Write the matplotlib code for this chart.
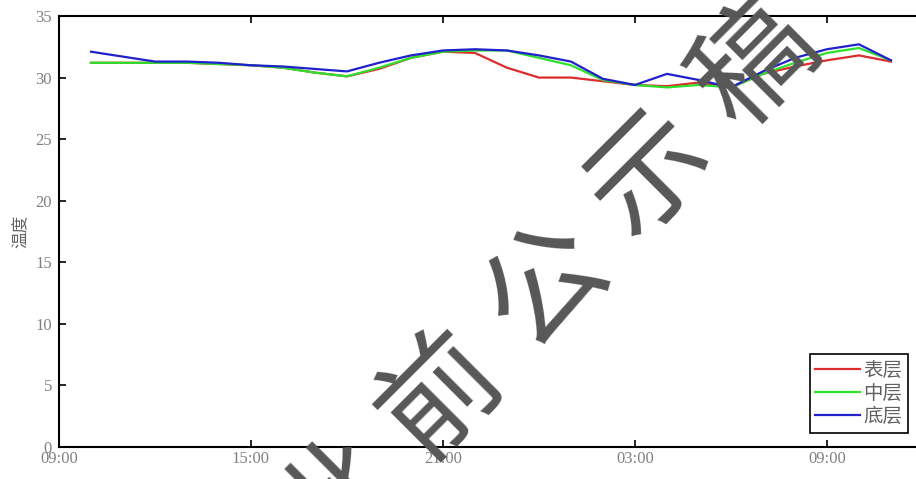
#!/usr/bin/env python3
"""Hourly water temperature at three depths (surface / middle / bottom)."""

import pandas as pd
import matplotlib.pyplot as plt
import matplotlib.dates as mdates

plt.rcParams["font.family"] = ["Noto Sans CJK SC", "DejaVu Sans"]

# hourly readings, 10:00 day 1 to 11:00 day 2
times = pd.date_range("2020-07-01 10:00", periods=26, freq="h")

surface = [31.2, 31.2, 31.2, 31.2, 31.1, 31.0, 30.8, 30.4, 30.1, 30.7,
           31.6, 32.1, 32.0, 30.8, 30.0, 30.0, 29.7, 29.4, 29.3, 29.6,
           29.2, 30.3, 30.9, 31.4, 31.8, 31.3]
middle = [31.2, 31.2, 31.2, 31.2, 31.1, 31.0, 30.8, 30.4, 30.1, 30.8,
          31.6, 32.1, 32.2, 32.2, 31.6, 31.0, 29.8, 29.4, 29.2, 29.4,
          29.2, 30.3, 31.2, 32.0, 32.4, 31.4]
bottom = [32.1, 31.7, 31.3, 31.3, 31.2, 31.0, 30.9, 30.7, 30.5, 31.2,
          31.8, 32.2, 32.3, 32.2, 31.8, 31.3, 29.9, 29.4, 30.3, 29.8,
          29.2, 30.5, 31.6, 32.3, 32.7, 31.4]

labels = ["表层", "中层", "底层"]
colors = ["#dc2c2c", "#2ce02c", "#2020cc"]

watermark = "批前公示稿"

fig = plt.figure(figsize=(9.16, 4.79), dpi=100)
ax = fig.add_axes([0.0644, 0.0668, 0.9432, 0.8998])

for vals, lab, col in zip([surface, middle, bottom], labels, colors):
    ax.plot(times, vals, color=col, linewidth=1.6, label=lab)

ax.set_xlim(pd.Timestamp("2020-07-01 09:00"), pd.Timestamp("2020-07-02 12:00"))
ax.set_ylim(0, 35)
ax.set_yticks(range(0, 36, 5))
ax.xaxis.set_major_locator(mdates.HourLocator(byhour=[3, 9, 15, 21]))
ax.xaxis.set_major_formatter(mdates.DateFormatter("%H:%M"))

ax.tick_params(direction="in", length=5, width=1.2, top=True, right=True,
               labelsize=12, labelcolor="#808080", pad=3)
ax.tick_params(axis="y", pad=5)
for lbl in ax.get_xticklabels() + ax.get_yticklabels():
    lbl.set_family("Liberation Serif")
for sp in ax.spines.values():
    sp.set_linewidth(1.5)

ax.set_ylabel("温度", fontsize=12, color="#606060", labelpad=4)

leg = ax.legend(loc="lower right", fontsize=14, frameon=True, fancybox=False,
                edgecolor="black", framealpha=1, handlelength=2.3,
                handletextpad=0.15, borderpad=0.3, labelspacing=0.12,
                borderaxespad=0, bbox_to_anchor=(0.9826, 0.0325))
leg.get_frame().set_linewidth(1.2)
for t in leg.get_texts():
    t.set_color("#606060")

# watermark: one glyph every ~150 px along a 45 degree line, centred on 公
w, h = 916, 479
for i, ch in enumerate(watermark):
    cx = 547 + (i - 2) * 105
    cy = 285 - (i - 2) * 110
    fig.text(cx / w, 1 - cy / h, ch, fontsize=86, color="#575757",
             rotation=45, ha="center", va="center", zorder=10)

fig.savefig("out.png", dpi=100)
plt.close()
